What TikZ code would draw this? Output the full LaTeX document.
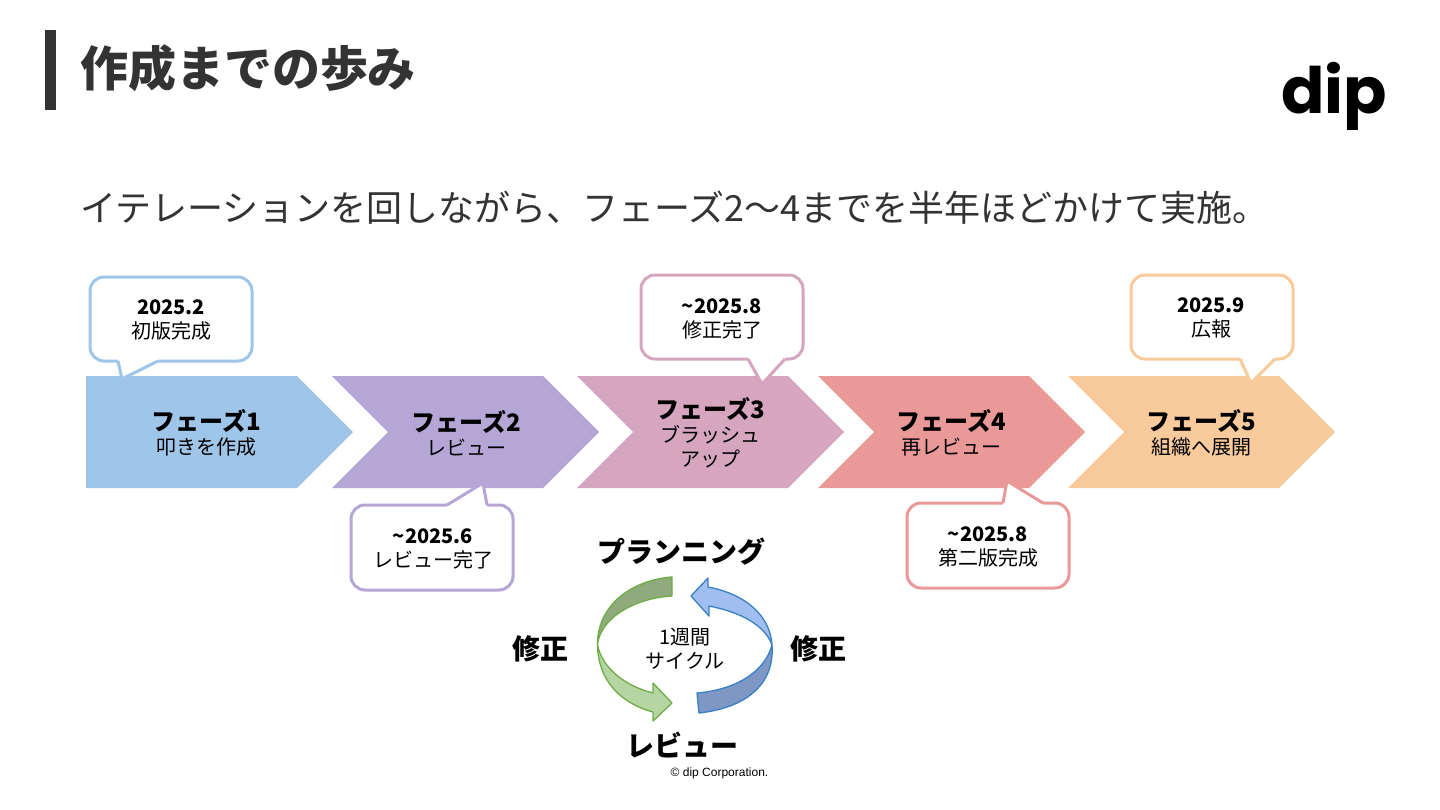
\documentclass[tikz,border=0pt]{standalone}
\usepackage{fontspec}
\setmainfont{Noto Sans CJK JP}
\newfontfamily\logofont{Poppins}
\newfontfamily\footfont{Liberation Sans}
\definecolor{cblue}{HTML}{9FC5E8}
\definecolor{cpurple}{HTML}{B4A7D6}
\definecolor{cpink}{HTML}{D5A6BD}
\definecolor{cred}{HTML}{EA9999}
\definecolor{corange}{HTML}{F9CB9C}
\definecolor{ink}{HTML}{333333}
\definecolor{greenline}{HTML}{70AD47}
\definecolor{greendark}{HTML}{8FAA7C}
\definecolor{greenlight}{HTML}{B5D6A3}
\definecolor{blueline}{HTML}{3B82C4}
\definecolor{bluelight}{HTML}{A0BFF0}
\definecolor{bluedark}{HTML}{7F97C4}
\tikzset{
  txt/.style={inner sep=0pt,outer sep=0pt,align=center,text=black},
  phasetxt/.style={txt,font=\fontsize{15}{18}\selectfont},
  tiptxt/.style={txt,font=\fontsize{15}{18}\selectfont},
  cyclelabel/.style={txt,font=\fontsize{21}{25}\selectfont\bfseries},
  tipbox/.style={draw=#1,fill=white,line width=2.25pt,rounded corners=10.5pt},
  tailline/.style={draw=#1,line width=2.25pt,line join=miter,miter limit=10},
  ribbon/.style={line width=1pt,line join=round},
}
\newcommand{\chevshape}[2]{% x, colour
  \fill[#2] (#1,376) -- ++(211,0) -- ++(56,56) -- ++(-56,56) -- ++(-211,0) -- ++(56,-56) -- cycle;
}
% colour, base point a, tip, base point b, shift towards the box interior (pt)
\newcommand{\tipbubble}[8]{%
  \draw[tipbox=#1] (#2) rectangle (#3);
  \fill[white] (#4) -- (#5) -- (#6) -- ([yshift=#7pt]#6) -- ([yshift=#7pt]#4) -- cycle;
  \draw[tailline=#1] (#4) -- (#5) -- (#6);
}
\begin{document}
\begin{tikzpicture}[x=0.75pt,y=-0.75pt]
\useasboundingbox (0,0) rectangle (1440,810);
\fill[white] (0,0) rectangle (1440,810);
% title
\fill[ink] (45,30) rectangle (56,110);
\node[txt,anchor=west,text=ink,font=\fontsize{36}{40}\selectfont\bfseries] (title) at (80,68) {作成までの歩み};
\node[txt,anchor=base west,text=black,font=\fontsize{48}{52}\logofont\bfseries] (logo) at (1281.5,113) {dip};
\node[txt,anchor=west,text=ink,font=\fontsize{27}{32}\selectfont] (sub) at (80,208) {イテレーションを回しながら、フェーズ2〜4までを半年ほどかけて実施。};
% phases
\fill[cblue] (86,376) -- (297,376) -- (353,432) -- (297,488) -- (86,488) -- cycle;
\chevshape{332}{cpurple}
\chevshape{577}{cpink}
\chevshape{818}{cred}
\chevshape{1068}{corange}
% callouts
\tipbubble{cblue}{90,277}{252,361}{118,361}{122,379}{158,361}{2}{}
\tipbubble{cpurple}{351,505}{513,590}{447,505}{483,483}{487,505}{-2}{}
\tipbubble{cpink}{641,275}{803,359}{748,359}{762,384}{785,359}{2}{}
\tipbubble{cred}{907,503}{1069,588}{1003,503}{1007,481}{1043,503}{-2}{}
\tipbubble{corange}{1131,275}{1293,359}{1240,359}{1251,383}{1275,359}{2}{}
% phase texts
\node[phasetxt] (p1) at (206,433) {{\fontsize{18}{18}\selectfont\bfseries フェーズ1}\\叩きを作成};
\node[phasetxt] (p2) at (466,433) {{\fontsize{18}{18}\selectfont\bfseries フェーズ2}\\レビュー};
\node[phasetxt] (p3) at (710.5,433) {{\fontsize{18}{18}\selectfont\bfseries フェーズ3}\\ブラッシュ\\アップ};
\node[phasetxt] (p4) at (951.5,433) {{\fontsize{18}{18}\selectfont\bfseries フェーズ4}\\再レビュー};
\node[phasetxt] (p5) at (1201.5,433) {{\fontsize{18}{18}\selectfont\bfseries フェーズ5}\\組織へ展開};
% callout texts
\node[tiptxt] (t1) at (171,320) {{\bfseries 2025.2}\\初版完成};
\node[tiptxt] (t2) at (433,549) {{\bfseries \textasciitilde 2025.6}\\レビュー完了};
\node[tiptxt] (t3) at (722,319) {{\bfseries \textasciitilde 2025.8}\\修正完了};
\node[tiptxt] (t4) at (988,547) {{\bfseries \textasciitilde 2025.8}\\第二版完成};
\node[tiptxt] (t5) at (1211,318) {{\bfseries 2025.9}\\広報};
% cycle: green
\filldraw[ribbon,draw=greenline,fill=greendark] (672,577) .. controls (632,580) and (597,605) .. (597.5,645) .. controls (600,618) and (635,598) .. (672,596) -- cycle;
\filldraw[ribbon,draw=greenline,fill=greenlight] (597.5,645) .. controls (598,680) and (620,703) .. (653,712) -- (653,721) -- (672,703) -- (653,683) -- (653,693) .. controls (625,686) and (602,668) .. (597.5,645) -- cycle;
% cycle: blue
\filldraw[ribbon,draw=blueline,fill=bluelight] (691,596) -- (708,578) -- (708,587) .. controls (745,594) and (770,615) .. (772,645) .. controls (765,625) and (740,612) .. (709,606) -- (709,616) -- cycle;
\filldraw[ribbon,draw=blueline,fill=bluedark] (772,645) .. controls (775,685) and (745,708) .. (699,713) -- (697,693) .. controls (735,690) and (765,672) .. (772,645) -- cycle;
% cycle labels
\node[cyclelabel] (plan) at (681,552) {プランニング};
\node[cyclelabel] (fixl) at (540,649) {修正};
\node[cyclelabel] (fixr) at (818,649) {修正};
\node[cyclelabel] (rev) at (682,745) {レビュー};
\node[tiptxt] (centre) at (685,649) {1週間\\サイクル};
\node[txt,font=\fontsize{9}{11}\footfont] (foot) at (719.5,773) {© dip Corporation.};
\end{tikzpicture}
\end{document}
